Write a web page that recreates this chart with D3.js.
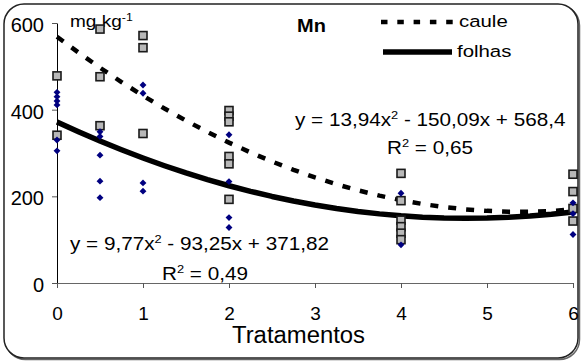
<!DOCTYPE html>
<html>
<head>
<meta charset="utf-8">
<script src="https://cdn.jsdelivr.net/npm/d3@7/dist/d3.min.js"></script>
<style>
  html, body { margin: 0; padding: 0; background: #fff; }
  svg { display: block; }
  text { font-family: "Liberation Sans", Arial, sans-serif; fill: #000; }
</style>
</head>
<body>
<svg id="chart" width="581" height="364"></svg>
<script>
// Treatment levels on the x axis and concentration ticks on the y axis
const xTicks = [0, 1, 2, 3, 4, 5, 6];
const yTicks = [0, 200, 400, 600];

// Mn in stems (caule), individual observations
const cauleX = [0, 0, 0.5, 0.5, 0.5, 1, 1, 1, 2, 2, 2, 2, 2, 2, 4, 4, 4, 4, 4, 4, 6, 6, 6, 6];
const cauleY = [478, 341, 586, 476, 363, 571, 543, 345, 398, 385, 372, 292, 275, 193, 253, 190, 145, 130, 115, 100, 251, 211, 172, 143];

// Mn in leaves (folhas), individual observations
const folhasX = [0, 0, 0, 0, 0, 0, 0.5, 0.5, 0.5, 0.5, 0.5, 1, 1, 1, 1, 2, 2, 2, 2, 4, 4, 6, 6, 6];
const folhasY = [440, 430, 420, 411, 330, 305, 349, 338, 295, 235, 197, 457, 438, 231, 212, 342, 234, 151, 128, 207, 88, 185, 160, 112];

// Quadratic trend coefficients [a, b, c] for y = a x^2 + b x + c
const cauleCoef = [13.94, -150.09, 568.4];
const folhasCoef = [9.77, -93.25, 371.82];
const trendSteps = d3.range(0, 6.0001, 0.25);

const svg = d3.select("#chart");

// Frame with rounded corners and a soft shadow
svg.append("rect").attr("x", 5.5).attr("y", 5.5).attr("width", 574).attr("height", 354)
  .attr("rx", 20).attr("fill", "none").attr("stroke", "#666").attr("stroke-width", 1.5);
svg.append("rect").attr("x", 4).attr("y", 4).attr("width", 574).attr("height", 354)
  .attr("rx", 20).attr("fill", "#fff").attr("stroke", "#222").attr("stroke-width", 1.5);

const x = d3.scaleLinear().domain([0, 6]).range([57, 573]);
const y = d3.scaleLinear().domain([0, 600]).range([283, 23]);

// Axes
const yAxis = svg.append("g").attr("transform", "translate(57,0)")
  .call(d3.axisLeft(y).tickValues(yTicks).tickSize(5).tickSizeOuter(0).tickPadding(8).tickFormat(d3.format("d")));
yAxis.select(".domain").attr("stroke", "#000");
yAxis.selectAll(".tick line").attr("stroke", "#555");
yAxis.selectAll("text").attr("font-size", 20).attr("dy", "0.42em")
  .style("font-family", "'Liberation Sans', Arial, sans-serif").attr("fill", "#000");

const xAxis = svg.append("g").attr("transform", "translate(0,283)")
  .call(d3.axisBottom(x).tickValues(xTicks).tickSize(5).tickSizeOuter(0).tickPadding(19).tickFormat(d3.format("d")));
xAxis.select(".domain").attr("stroke", "#666");
xAxis.selectAll(".tick line").attr("stroke", "#555");
xAxis.selectAll("text").attr("font-size", 19)
  .style("font-family", "'Liberation Sans', Arial, sans-serif").attr("fill", "#000");

// Helper: text made of runs, optionally with superscripts, stretched horizontally
function label(px, py, runs, size, sx, opts = {}) {
  const g = svg.append("g").attr("transform", `translate(${px},${py}) scale(${sx},1)`);
  const t = g.append("text").attr("font-size", size).attr("x", 0).attr("y", 0);
  if (opts.bold) t.attr("font-weight", "bold");
  if (opts.textLength) t.attr("textLength", opts.textLength).attr("lengthAdjust", "spacingAndGlyphs");
  const rise = size * 0.38;
  let raised = false;
  runs.forEach(r => {
    if (typeof r === "string") {
      const s = t.append("tspan").attr("font-size", size).text(r);
      if (raised) { s.attr("dy", rise); raised = false; }
    } else {
      t.append("tspan").attr("font-size", r.size || size * 0.62).attr("dy", -rise).text(r.sup);
      raised = true;
    }
  });
  return t;
}

// Unit label and title
label(70, 27, ["mg.kg", { sup: "-1", size: 11 }], 17, 1.12);
label(297, 32, ["Mn"], 18.5, 1.08, { bold: true });

// Axis title
label(232, 343, ["Tratamentos"], 23, 1, { textLength: 133 });

// Trend lines
const trend = coef => trendSteps.map(v => [v, coef[0] * v * v + coef[1] * v + coef[2]]);
const line = d3.line().x(d => x(d[0])).y(d => y(d[1]));

svg.append("path").datum(trend(folhasCoef)).attr("d", line)
  .attr("fill", "none").attr("stroke", "#000").attr("stroke-width", 5.5).attr("stroke-linejoin", "round");
svg.append("path").datum(trend(cauleCoef)).attr("d", line)
  .attr("fill", "none").attr("stroke", "#000").attr("stroke-width", 4.5).attr("stroke-dasharray", "8,10");

// Observations: stems as grey squares, leaves as navy diamonds
svg.append("g").selectAll("rect").data(d3.range(cauleX.length)).join("rect")
  .attr("x", i => x(cauleX[i]) - 4).attr("y", i => y(cauleY[i]) - 4)
  .attr("width", 8).attr("height", 8)
  .attr("fill", "#b8b8b8").attr("stroke", "#1a1a1a").attr("stroke-width", 1.6);

const diamond = d3.symbol().type(d3.symbolDiamond2).size(30);
svg.append("g").selectAll("path").data(d3.range(folhasX.length)).join("path")
  .attr("transform", i => `translate(${x(folhasX[i])},${y(folhasY[i])})`)
  .attr("d", diamond).attr("fill", "#000080");

// Legend
svg.append("line").attr("x1", 381).attr("x2", 457).attr("y1", 22).attr("y2", 22)
  .attr("stroke", "#000").attr("stroke-width", 4.5).attr("stroke-dasharray", "6.5,9.8");
label(459, 27, ["caule"], 17, 1.2);
svg.append("line").attr("x1", 383).attr("x2", 452).attr("y1", 52).attr("y2", 52)
  .attr("stroke", "#000").attr("stroke-width", 5.5);
label(457, 57, ["folhas"], 17, 1.2);

// Regression equations
label(295, 126, ["y = 13,94x", { sup: "2" }, " - 150,09x + 568,4"], 18, 1.15);
label(387, 154, ["R", { sup: "2" }, " = 0,65"], 18, 1.15);
label(70, 250, ["y = 9,77x", { sup: "2" }, " - 93,25x + 371,82"], 18, 1.15);
label(162, 280, ["R", { sup: "2" }, " = 0,49"], 18, 1.15);
</script>
</body>
</html>
